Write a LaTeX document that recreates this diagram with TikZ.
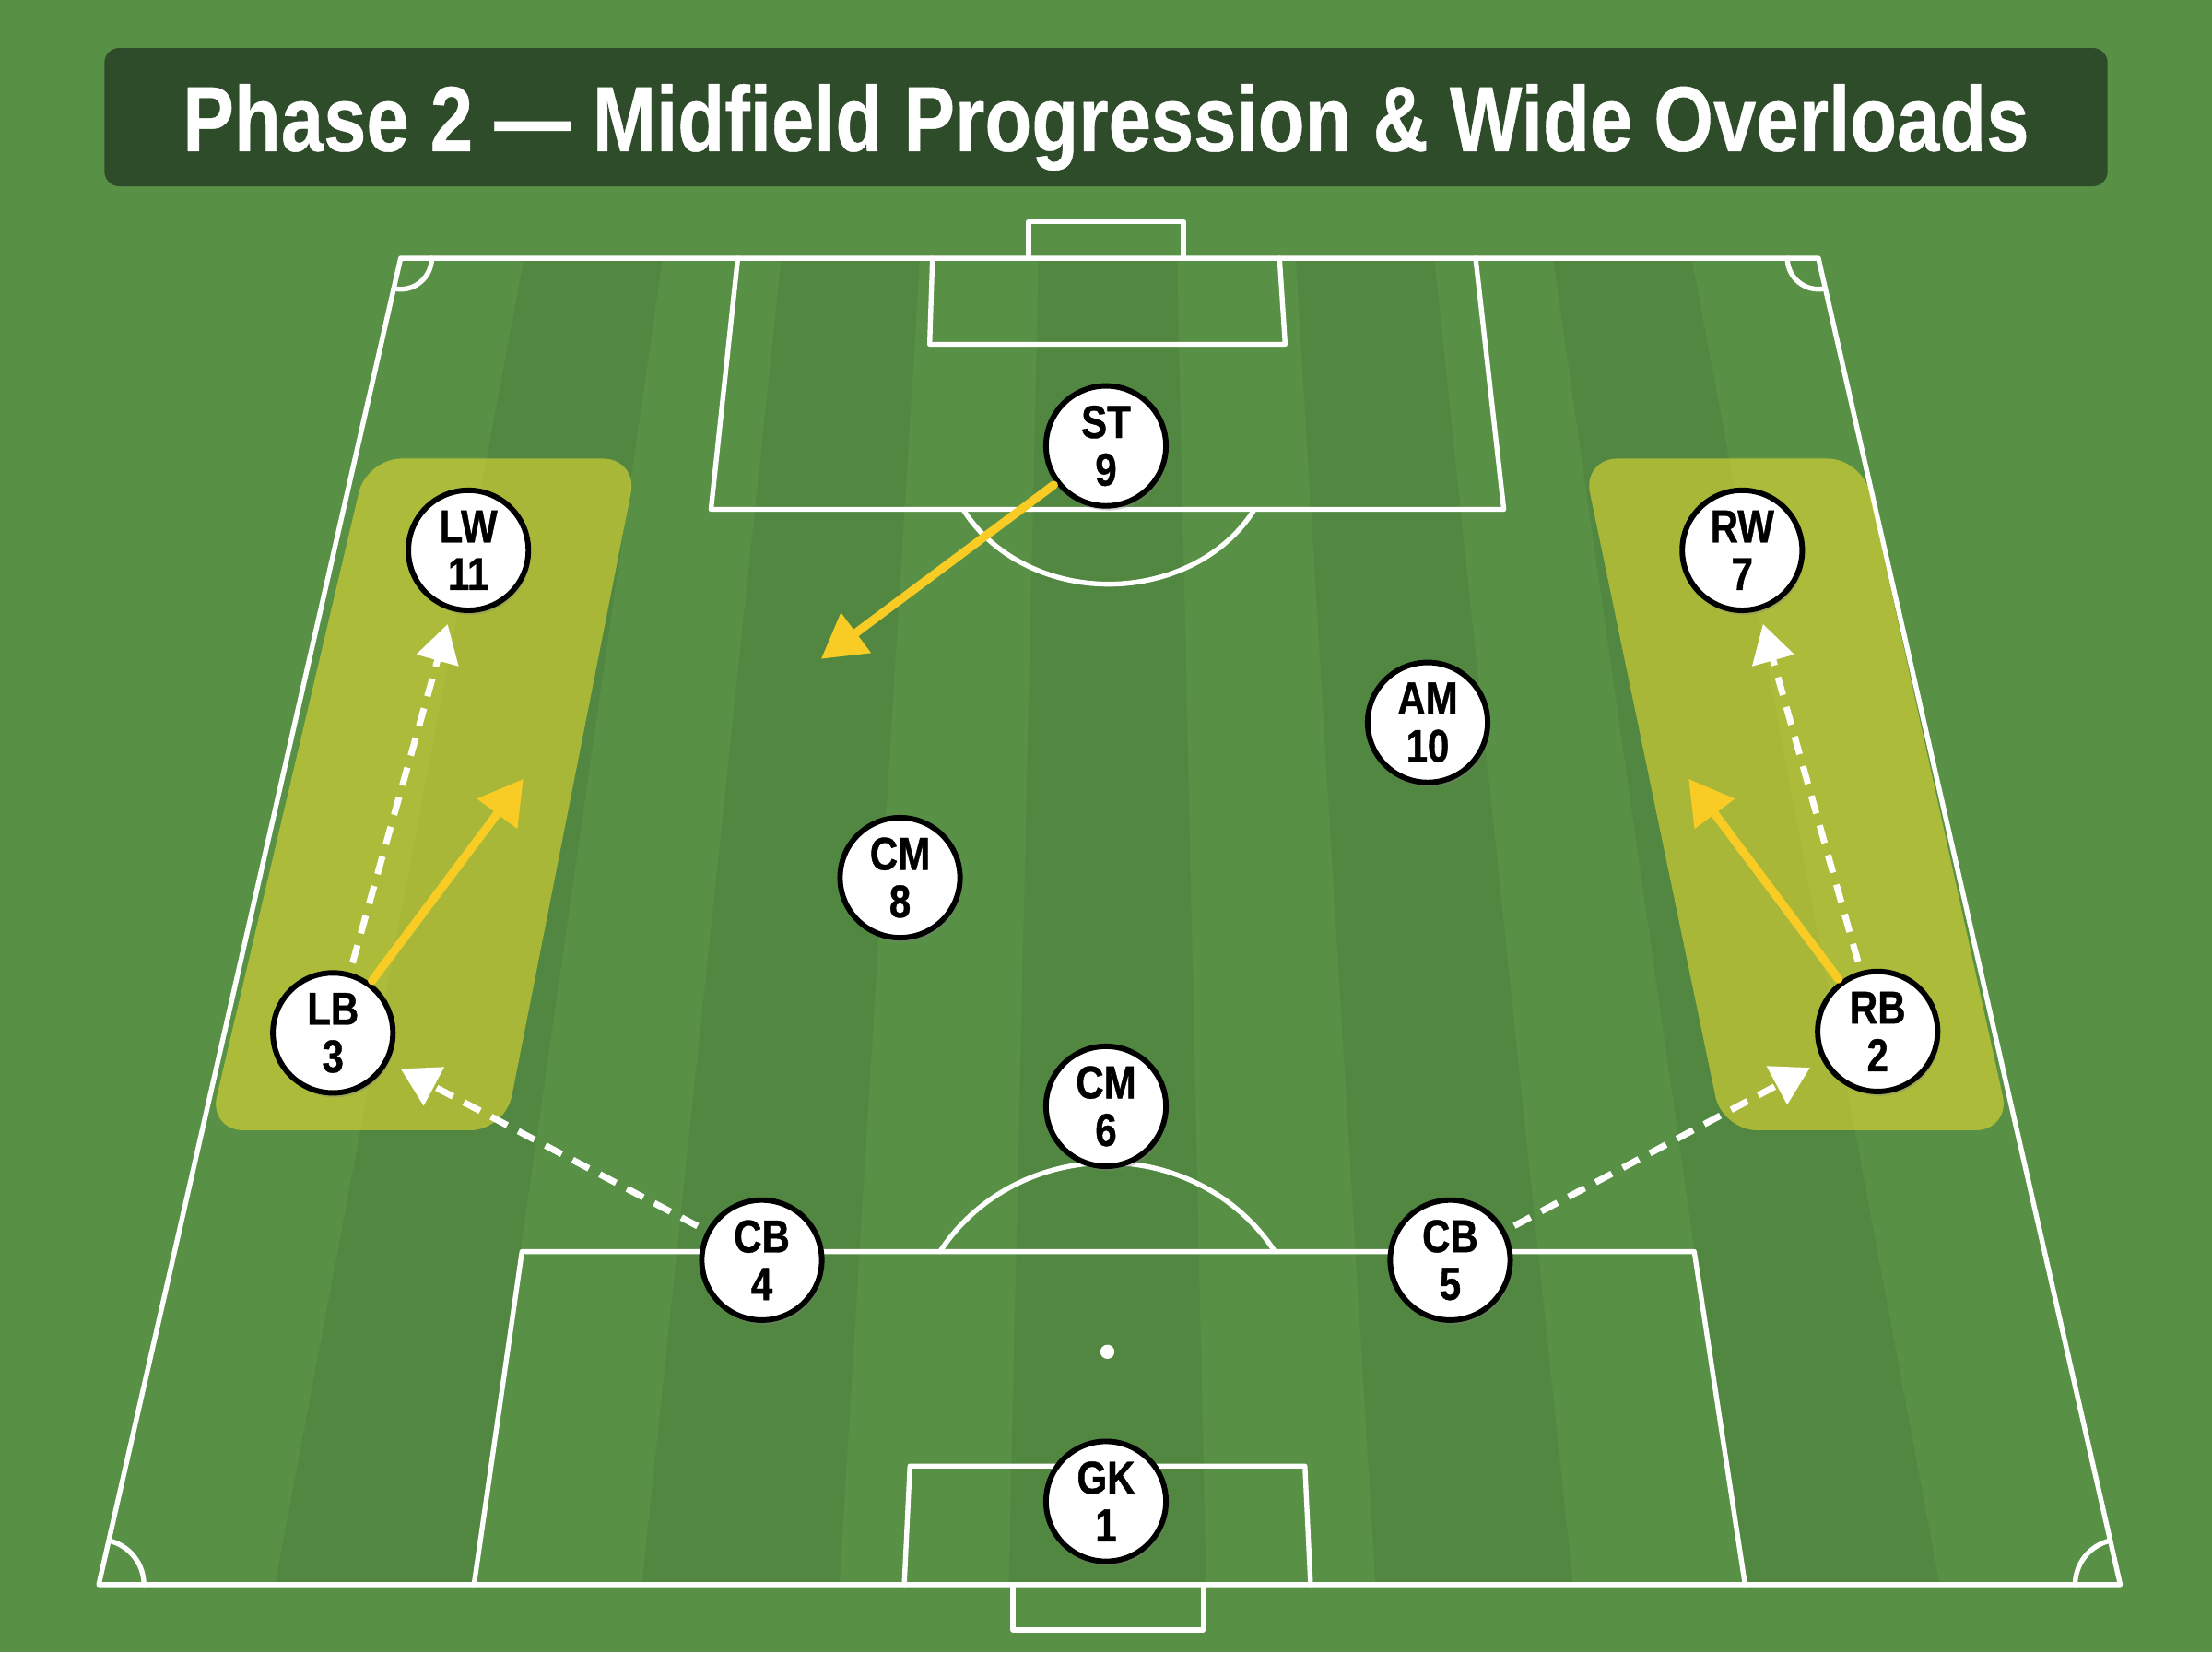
\documentclass[tikz,border=0pt]{standalone}
\usepackage{fontspec}
\setmainfont{Liberation Sans}
\newfontfamily\playerfont[FakeStretch=0.84,FakeBold=0.8]{Liberation Sans}
\newfontfamily\titlefont[FakeBold=0.5]{Liberation Sans}
\usetikzlibrary{arrows.meta,shadows}
\definecolor{grass}{RGB}{88,144,70}
\definecolor{bannergreen}{RGB}{46,75,42}
\definecolor{passyellow}{RGB}{248,204,36}
\definecolor{zoneyellow}{RGB}{236,220,50}
\begin{document}
\begin{tikzpicture}[x=0.01cm, y=-0.01cm, line join=round, line cap=round,
  pitchline/.style={white, line width=1pt},
  zone/.style={fill=zoneyellow, fill opacity=0.57, rounded corners=7pt},
  player/.style={circle, draw=black, line width=1.1pt, fill=white, minimum size=0.85cm, inner sep=0pt, align=center,
    font=\playerfont\bfseries\fontsize{9.3}{9.6}\selectfont,
    drop shadow={shadow xshift=0.4pt, shadow yshift=-0.9pt, opacity=0.35}},
  pass/.style={passyellow, line width=1.7pt, shorten <=0.5pt, -{Triangle[length=8.8pt,width=9.7pt]}},
  run/.style={white, line width=1.3pt, line cap=butt, dash pattern=on 3.7pt off 2.5pt, shorten <=2pt, shorten >=2.8pt,
    -{Triangle[length=7.6pt,width=8.5pt]}}]
\def\vx{786} \def\vy{-2024} % vanishing point of the stripes
\useasboundingbox (0,0) rectangle (1568,1171);
\fill[grass] (0,0) rectangle (1568,1171);
% mown stripes
\begin{scope}
\clip (284,183) -- (1289,183) -- (1503,1123) -- (70,1123) -- cycle;
\foreach \s in {265,525,785,1045,1305}
  \fill[black, opacity=0.06] (\vx,\vy) -- (\s-70,1123) -- (\s+70,1123) -- cycle;
\end{scope}
% title
\fill[bannergreen, rounded corners=3pt] (74,34) rectangle (1494,132);
\node[text=white, anchor=base, inner sep=0pt, font=\titlefont\bfseries\fontsize{18.6}{20}\selectfont] (title) at (784,107)
  {\resizebox{13.08cm}{\height}{Phase 2 — Midfield Progression \& Wide Overloads}};
% pitch
\draw[pitchline] (284,183) -- (1289,183) -- (1503,1123) -- (70,1123) -- cycle;
\draw[pitchline] (523,183) -- (504,361) -- (1066,361) -- (1046,183);
\draw[pitchline] (661,183) -- (659,244) -- (911,244) -- (907,183);
\draw[pitchline] (729,183) -- (729,157) -- (839,157) -- (839,183);
\draw[pitchline] (888.6,362) arc[start angle=28.7, end angle=151.3, x radius=117, y radius=100];
\draw[pitchline] (336,1123) -- (370,887) -- (1201,887) -- (1237,1123);
\draw[pitchline] (641,1123) -- (645,1039) -- (925,1039) -- (929,1123);
\draw[pitchline] (718,1123) -- (718,1155) -- (853,1155) -- (853,1123);
\draw[pitchline] (666.3,887) arc[start angle=-148, end angle=-32, x radius=140, y radius=134];
\fill[white] (785,958) circle[radius=5];
\draw[pitchline] (284,183) ++(0:22) arc[start angle=0, end angle=103, radius=22];
\draw[pitchline] (1289,183) ++(77:22) arc[start angle=77, end angle=180, radius=22];
\draw[pitchline] (70,1123) ++(0:32) arc[start angle=0, end angle=-77, radius=32];
\draw[pitchline] (1503,1123) ++(180:32) arc[start angle=180, end angle=257, radius=32];
% overload zones
\fill[zone] (260,325) -- (452,325) -- (358,801) -- (148,801) -- cycle;
\fill[zone] (1122,325) -- (1320,325) -- (1425,801) -- (1221,801) -- cycle;
% players
\node[player] (st) at (784,316) {ST\\9};
\node[player] (lw) at (332,390) {LW\\11};
\node[player] (rw) at (1235,390) {RW\\7};
\node[player] (am) at (1012,512) {AM\\10};
\node[player] (cm8) at (638,622) {CM\\8};
\node[player] (lb) at (236,732) {LB\\3};
\node[player] (rb) at (1331,731) {RB\\2};
\node[player] (cm6) at (784,784) {CM\\6};
\node[player] (lcb) at (540,893) {CB\\4};
\node[player] (rcb) at (1028,893) {CB\\5};
\node[player] (gk) at (784,1064) {GK\\1};
% passes and runs
\coordinate (stpass) at (582,467);
\coordinate (lbpass) at (371,552);
\coordinate (rbpass) at (1197,552);
\draw[pass] (st) -- (stpass);
\draw[pass] (lb) -- (lbpass);
\draw[pass] (rb) -- (rbpass);
\draw[run] (lb) -- (lw);
\draw[run] (rb) -- (rw);
\draw[run] (lcb) -- (lb);
\draw[run] (rcb) -- (rb);
\end{tikzpicture}
\end{document}
